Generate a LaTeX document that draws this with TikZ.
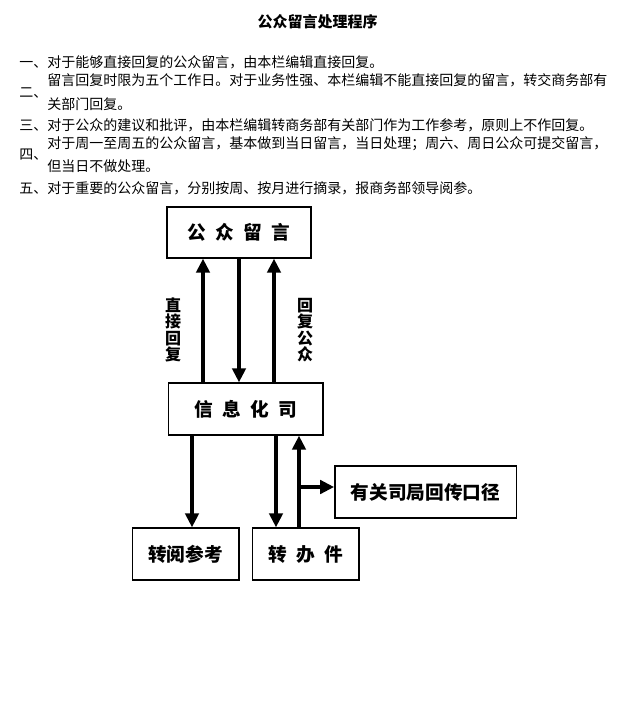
\documentclass[tikz,border=0pt]{standalone}
\usepackage{fontspec}
\setmainfont{Noto Sans CJK SC}
\usetikzlibrary{arrows.meta}
\newcommand\kg{\hspace{0.5em}}

\begin{document}
\begin{tikzpicture}[x=0.75pt,y=-0.75pt,
  box/.style={draw,line width=1pt,inner sep=0pt,font=\fontsize{14}{14}\selectfont\bfseries},
  arr/.style={line width=3pt,-{Triangle[width=10pt,length=10.5pt]}},
  txt/.style={anchor=west,inner sep=0pt,font=\fontsize{10.5}{12}\selectfont},
  lbl/.style={align=center,inner sep=0pt,font=\fontsize{12}{12.4}\selectfont\bfseries}]
  \useasboundingbox (0,0) rectangle (626,725);
  % title and rules
  \node[font=\fontsize{11.25}{12}\selectfont\bfseries] (title) at (317.5,22) {公众留言处理程序};
  \node[txt] (r1) at (19,62) {一、对于能够直接回复的公众留言，由本栏编辑直接回复。};
  \node[txt] (r2) at (47,80) {留言回复时限为五个工作日。对于业务性强、本栏编辑不能直接回复的留言，转交商务部有};
  \node[txt] (n2) at (19,93) {二、};
  \node[txt] (r2b) at (47,104) {关部门回复。};
  \node[txt] (r3) at (19,125) {三、对于公众的建议和批评，由本栏编辑转商务部有关部门作为工作参考，原则上不作回复。};
  \node[txt] (r4) at (47,144) {对于周一至周五的公众留言，基本做到当日留言，当日处理；周六、周日公众可提交留言，};
  \node[txt] (n4) at (19,155) {四、};
  \node[txt] (r4b) at (47,166) {但当日不做处理。};
  \node[txt] (r5) at (19,188) {五、对于重要的公众留言，分别按周、按月进行摘录，报商务部领导阅参。};

  % boxes
  \node[box,minimum width=108pt,minimum height=38.25pt] (msg) at (239,232.5) {公\kg 众\kg 留\kg 言};
  \node[box,minimum width=116pt,minimum height=39pt] (info) at (245.5,409) {信\kg 息\kg 化\kg 司};
  \node[box,minimum width=80pt,minimum height=39pt] (ref) at (185.5,554) {转阅参考};
  \node[box,minimum width=80pt,minimum height=39pt] (job) at (305.5,554) {转\kg 办\kg 件};
  \node[box,minimum width=136pt,minimum height=39pt] (side) at (425.5,492) {有关司局回传口径};

  % arrows
  \coordinate (a1) at (203,0);
  \coordinate (a2) at (239,0);
  \coordinate (a3) at (274,0);
  \coordinate (b1) at (192,0);
  \coordinate (b2) at (276,0);
  \coordinate (b3) at (299,0);
  \coordinate (br) at (299,487);
  \draw[arr] (info.north -| a1) -- (msg.south -| a1);
  \draw[arr] (msg.south -| a2) -- (info.north -| a2);
  \draw[arr] (info.north -| a3) -- (msg.south -| a3);
  \draw[arr] (info.south -| b1) -- (ref.north -| b1);
  \draw[arr] (info.south -| b2) -- (job.north -| b2);
  \draw[arr] (job.north -| b3) -- (info.south -| b3);
  \draw[arr] (br) -- (br -| side.west);
  \node[lbl] (up1) at (173,330) {直\\接\\回\\复};
  \node[lbl] (up2) at (305,330) {回\\复\\公\\众};
\end{tikzpicture}
\end{document}
